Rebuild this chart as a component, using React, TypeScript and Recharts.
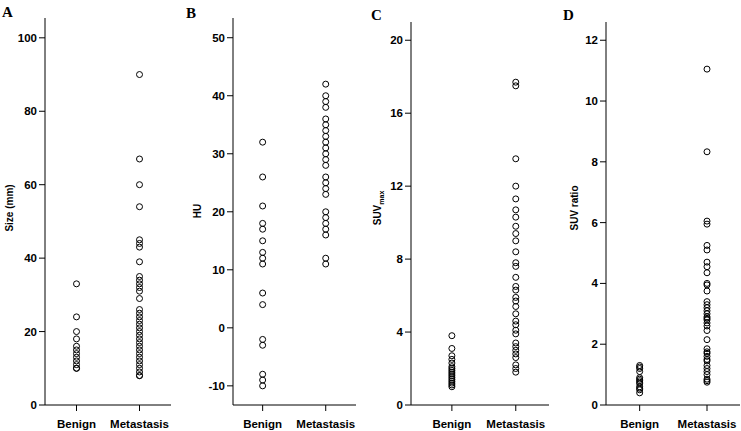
import React from 'react';
import { ScatterChart, Scatter, XAxis, YAxis } from 'recharts';

const CATEGORIES = ['Benign', 'Metastasis'];

// A: lesion size (mm)
const sizeBenign = [33, 24, 20, 18, 16, 15, 14, 13, 12, 11, 10, 10];
const sizeMetastasis = [
    90, 67, 60, 54, 45, 44, 43, 39, 35, 34, 33, 32, 31, 29, 26, 25, 24, 23, 22, 21,
    20, 19, 18, 17, 16, 15, 14, 13, 12, 11, 10, 9, 8, 8
];

// B: attenuation (HU)
const huBenign = [32, 26, 21, 18, 17, 15, 13, 12, 11, 6, 4, -2, -3, -8, -9, -10];
const huMetastasis = [
    42, 40, 39, 38, 36, 35, 34, 33, 32, 31, 30, 29, 28, 26, 25, 24, 23, 20, 19, 18,
    17, 16, 12, 11
];

// C: SUVmax
const suvBenign = [3.8, 3.1, 2.7, 2.5, 2.3, 2.1, 2.0, 1.9, 1.8, 1.7, 1.6, 1.5, 1.4, 1.3, 1.2, 1.1, 1.0];
const suvMetastasis = [
    17.7, 17.5, 13.5, 12.0, 11.3, 10.7, 10.3, 9.8, 9.4, 9.0, 8.4, 7.8, 7.6, 7.0, 6.5, 6.3,
    5.9, 5.7, 5.4, 5.0, 4.6, 4.4, 4.1, 3.9, 3.4, 3.2, 3.0, 2.8, 2.6, 2.2, 2.0, 1.8
];

// D: SUV ratio
const ratioBenign = [1.3, 1.25, 1.2, 1.1, 0.9, 0.85, 0.8, 0.75, 0.7, 0.6, 0.55, 0.5, 0.4];
const ratioMetastasis = [
    11.05, 8.33, 6.05, 5.95, 5.25, 5.1, 4.7, 4.55, 4.35, 4.0, 3.95, 3.75, 3.4, 3.3, 3.2,
    3.1, 3.0, 2.9, 2.85, 2.8, 2.7, 2.6, 2.45, 2.15, 1.85, 1.75, 1.7, 1.6, 1.5, 1.45,
    1.3, 1.2, 1.1, 1.0, 0.85, 0.8, 0.75
];

const sizeTicks = [0, 20, 40, 60, 80, 100];
const huTicks = [-10, 0, 10, 20, 30, 40, 50];
const suvTicks = [0, 4, 8, 12, 16, 20];
const ratioTicks = [0, 2, 4, 6, 8, 10, 12];

const FONT = '"Liberation Sans", Arial, Helvetica, sans-serif';
const SERIF = '"Liberation Serif", "Times New Roman", serif';
const Y_AXIS_W = 40;
const X_AXIS_H = 26;
const CHART_H = 431;

type Panel = {
    id: string;
    left: number;
    width: number;
    frameLeft: number;
    frameRight: number;
    frameTop: number;
    xDomain: [number, number];
    yDomain: [number, number];
    yTicks: number[];
    benign: number[];
    metastasis: number[];
};

const panels: Panel[] = [
    { id: 'A', left: 0, width: 180, frameLeft: 45, frameRight: 171, frameTop: 18, xDomain: [0.5, 2.5], yDomain: [0, 105.4], yTicks: sizeTicks, benign: sizeBenign, metastasis: sizeMetastasis },
    { id: 'B', left: 185, width: 180, frameLeft: 233, frameRight: 356, frameTop: 18, xDomain: [0.53, 2.48], yDomain: [-13.3, 53.4], yTicks: huTicks, benign: huBenign, metastasis: huMetastasis },
    { id: 'C', left: 368, width: 190, frameLeft: 411, frameRight: 549, frameTop: 22, xDomain: [0.36, 2.52], yDomain: [0, 21.0], yTicks: suvTicks, benign: suvBenign, metastasis: suvMetastasis },
    { id: 'D', left: 560, width: 181, frameLeft: 606, frameRight: 740, frameTop: 22, xDomain: [0.5, 2.49], yDomain: [0, 12.6], yTicks: ratioTicks, benign: ratioBenign, metastasis: ratioMetastasis },
];

const tickStyle = { fill: '#000', fontSize: 11.5, fontWeight: 700, fontFamily: FONT };

const OpenCircle = (props: any) => (
    <circle cx={props.cx} cy={props.cy} r={3} fill="none" stroke="#000" strokeWidth={1} />
);

const DotPanel: React.FC<{ p: Panel }> = ({ p }) => {
    const benignPts = p.benign.map(v => ({ x: 1, y: v }));
    const metaPts = p.metastasis.map(v => ({ x: 2, y: v }));
    return (
        <div style={{ position: 'absolute', left: p.left, top: 0 }}>
            <ScatterChart
                width={p.width}
                height={CHART_H}
                margin={{ top: p.frameTop, right: p.left + p.width - p.frameRight, bottom: 0, left: p.frameLeft - p.left - Y_AXIS_W }}
            >
                <XAxis
                    type="number"
                    dataKey="x"
                    domain={p.xDomain}
                    allowDataOverflow
                    ticks={[1, 2]}
                    tickFormatter={(v: number) => CATEGORIES[v - 1]}
                    height={X_AXIS_H}
                    tickSize={6}
                    tickMargin={9}
                    tick={tickStyle}
                    axisLine={{ stroke: '#000' }}
                    tickLine={{ stroke: '#000' }}
                />
                <XAxis xAxisId="top" orientation="top" type="number" domain={p.xDomain} allowDataOverflow height={0} tick={false} tickLine={false} axisLine={{ stroke: '#000' }} />
                <YAxis
                    type="number"
                    dataKey="y"
                    domain={p.yDomain}
                    allowDataOverflow
                    ticks={p.yTicks}
                    width={Y_AXIS_W}
                    tickSize={6}
                    tickMargin={2}
                    tick={tickStyle}
                    axisLine={{ stroke: '#000' }}
                    tickLine={{ stroke: '#000' }}
                />
                <YAxis yAxisId="right" orientation="right" type="number" domain={p.yDomain} allowDataOverflow width={0} tick={false} tickLine={false} axisLine={{ stroke: '#000' }} />
                <Scatter data={benignPts} shape={OpenCircle} isAnimationActive={false} />
                <Scatter data={metaPts} shape={OpenCircle} isAnimationActive={false} />
            </ScatterChart>
        </div>
    );
};

const labelStyle = { fontFamily: FONT, fontWeight: 700, fontSize: 10, fill: '#000' };
const letterStyle = { fontFamily: SERIF, fontWeight: 700, fontSize: 15, fill: '#000' };

export default function App() {
    return (
        <div style={{ position: 'absolute', left: 0, top: 0, width: 741, height: 431, background: '#fff' }}>
            {panels.map(p => <DotPanel key={p.id} p={p} />)}
            <svg width={741} height={431} style={{ position: 'absolute', left: 0, top: 0, pointerEvents: 'none' }}>
                <text x={2} y={17} style={letterStyle}>A</text>
                <text x={186} y={18} style={letterStyle}>B</text>
                <text x={371} y={20} style={letterStyle}>C</text>
                <text x={563} y={20} style={letterStyle}>D</text>
                <text transform="translate(13,208) rotate(-90)" textAnchor="middle" style={labelStyle}>Size (mm)</text>
                <text transform="translate(201,211) rotate(-90)" textAnchor="middle" style={labelStyle}>HU</text>
                <text transform="translate(381,208) rotate(-90)" textAnchor="middle" style={labelStyle}>
                    SUV<tspan dy={3} fontSize={7}>max</tspan>
                </text>
                <text transform="translate(578,208) rotate(-90)" textAnchor="middle" style={labelStyle}>SUV ratio</text>
            </svg>
        </div>
    );
}
